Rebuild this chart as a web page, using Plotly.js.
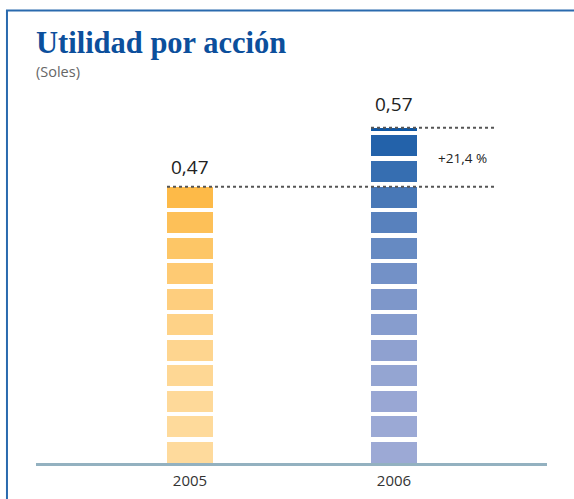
<!DOCTYPE html>
<html>
<head>
<meta charset="utf-8">
<script src="https://cdn.plot.ly/plotly-3.0.1.min.js"></script>
<style>html,body{margin:0;padding:0;background:#fff;}#chart{width:574px;height:499px;}</style>
</head>
<body>
<div id="chart"></div>
<script>
// ---- data ----
const years = ['2005', '2006'];
const values = [0.47, 0.57];
const valueLabels = ['0,47', '0,57'];
const changeLabel = '+21,4 %';
const chartTitle = 'Utilidad por acción';
const unitLabel = '(Soles)';

// ---- style ----
const SEG = 0.04345;   // segment pitch (data units)
const GAP = 0.0077;    // white gap between segments
const BAR_W = 0.2255;
const bottomColors = [[254, 218, 156], [156, 169, 213]];
const topColors = [[253, 186, 72], [14, 86, 163]];

function mix(a, b, t) {
  return 'rgb(' + a.map((v, i) => Math.round(v + (b[i] - v) * t)).join(',') + ')';
}

const traces = years.map((yr, i) => {
  const n = Math.ceil(values[i] / SEG);
  const xs = [], ys = [], bases = [], cols = [];
  for (let k = 0; k < n; k++) {
    const b = k * SEG;
    const top = Math.min(b + SEG - GAP, values[i]);
    xs.push(yr); bases.push(b); ys.push(top - b);
    const t = n > 1 ? k / (n - 1) : 1;
    cols.push(mix(bottomColors[i], topColors[i], Math.pow(t, 2)));
  }
  return {
    type: 'bar', x: xs, y: ys, base: bases, width: BAR_W,
    marker: {color: cols, line: {width: 0}},
    hoverinfo: 'skip', showlegend: false
  };
});

const shapes = [];
// dotted reference lines from each bar's left edge to the right
values.forEach((v, i) => {
  shapes.push({type: 'line', xref: 'x', yref: 'y', x0: i - BAR_W / 2, x1: 1.505, y0: v, y1: v,
    line: {color: '#555555', width: 2, dash: 'dot'}});
});
// frame (left and top)
shapes.push({type: 'line', xref: 'paper', yref: 'paper', x0: -0.0568, x1: -0.0568, y0: 1.1815, y1: -0.12,
  line: {color: '#2a6aae', width: 2}});
shapes.push({type: 'line', xref: 'paper', yref: 'paper', x0: -0.0588, x1: 1.1, y0: 1.1815, y1: 1.1815,
  line: {color: '#2a6aae', width: 2}});

const annotations = years.map((yr, i) => ({
  x: i, y: values[i], xref: 'x', yref: 'y', text: valueLabels[i], showarrow: false,
  yanchor: 'bottom', yshift: i === 0 ? 5 : 9, font: {family: 'Open Sans', size: 19, color: '#222222'}
}));
annotations.push({
  x: 1.335, y: (values[0] + values[1]) / 2, xref: 'x', yref: 'y', text: changeLabel, showarrow: false,
  xanchor: 'center', yanchor: 'middle', yshift: -1, font: {family: 'Open Sans', size: 13.5, color: '#222222'}
});
annotations.push({
  x: 0, y: 1.0, xref: 'paper', yref: 'paper', text: unitLabel, showarrow: false,
  xanchor: 'left', yanchor: 'bottom', yshift: -3, xshift: -2,
  font: {family: 'Open Sans', size: 14.5, color: '#666666'}
});

const layout = {
  width: 574, height: 499,
  margin: {l: 36, r: 27, t: 80, b: 36},
  paper_bgcolor: '#ffffff', plot_bgcolor: '#ffffff',
  barmode: 'overlay', bargap: 0,
  title: {text: '<b>' + chartTitle + '</b>', xref: 'container', yref: 'container',
    x: 36 / 574, xanchor: 'left', y: 1 - 32 / 499, yanchor: 'top',
    font: {family: 'Liberation Serif', size: 30.5, color: '#0c4f9c'}},
  xaxis: {type: 'category', range: [-0.755, 1.75], showline: true, linecolor: '#93b1c0', linewidth: 3,
    ticks: '', ticklabelstandoff: 2, showgrid: false, zeroline: false, fixedrange: true,
    tickfont: {family: 'Open Sans', size: 15, color: '#333333'}},
  yaxis: {range: [0, 0.6514], visible: false, showgrid: false, zeroline: false, fixedrange: true},
  shapes: shapes, annotations: annotations
};

Plotly.newPlot('chart', traces, layout, {displayModeBar: false, staticPlot: true});
</script>
</body>
</html>
